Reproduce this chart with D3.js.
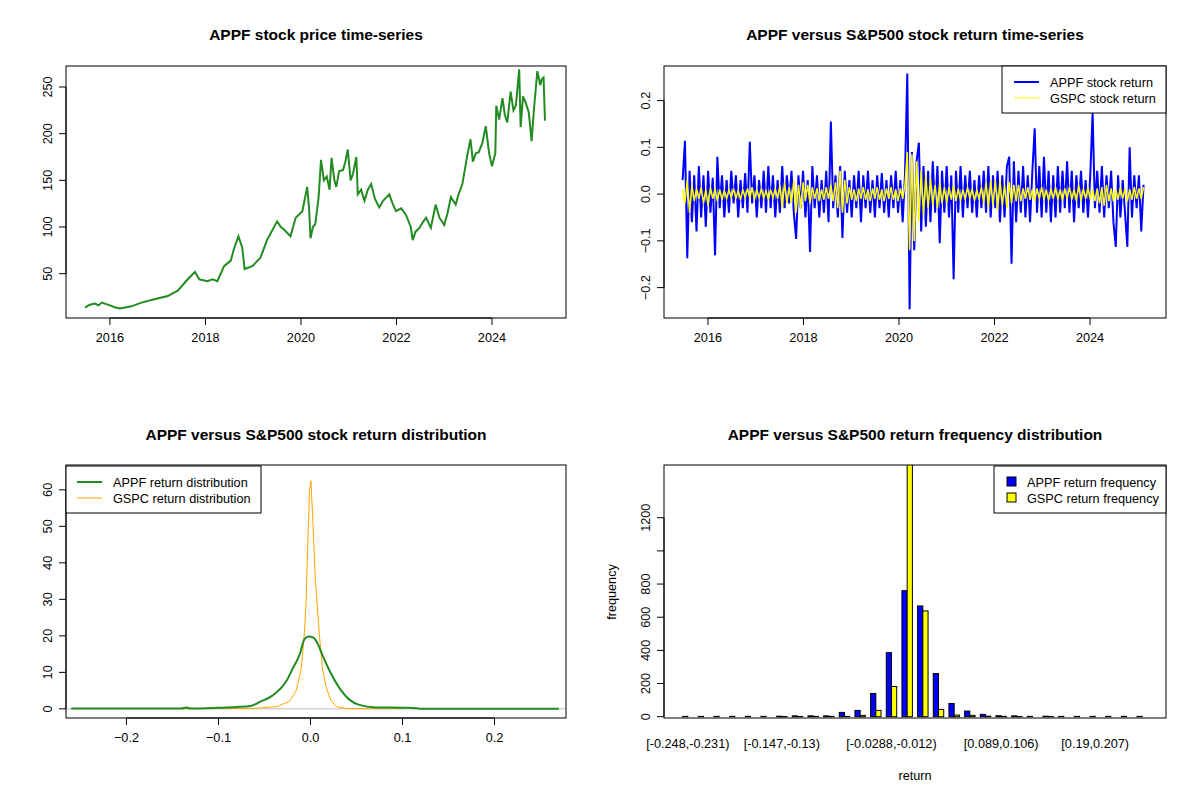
<!DOCTYPE html>
<html>
<head>
<meta charset="utf-8">
<script src="https://cdn.jsdelivr.net/npm/d3@7"></script>
<style>
  body { margin: 0; background: #fff; }
  text { font-family: "Liberation Sans", Arial, sans-serif; fill: #000; }
  .title { font-size: 15.5px; font-weight: bold; }
  .tick-label { font-size: 12.7px; }
  .legend-text { font-size: 12.7px; }
</style>
</head>
<body>
<svg id="chart" width="1200" height="800"></svg>
<script>
// ---- price series (year, price) ----
const priceYears = [2015.48,2015.55,2015.6,2015.69,2015.76,2015.83,2016.0,2016.1,2016.21,2016.45,2016.66,2016.93,2017.21,2017.42,2017.63,2017.78,2017.87,2018.04,2018.15,2018.25,2018.39,2018.53,2018.6,2018.69,2018.77,2018.82,2018.98,2019.15,2019.29,2019.5,2019.58,2019.65,2019.78,2019.89,2020.03,2020.13,2020.17,2020.2,2020.25,2020.3,2020.37,2020.42,2020.48,2020.54,2020.6,2020.64,2020.7,2020.74,2020.8,2020.88,2020.93,2020.98,2021.04,2021.09,2021.16,2021.19,2021.26,2021.33,2021.4,2021.47,2021.55,2021.64,2021.72,2021.85,2021.92,2021.99,2022.1,2022.2,2022.3,2022.34,2022.4,2022.48,2022.55,2022.62,2022.72,2022.82,2022.9,2023.0,2023.07,2023.14,2023.24,2023.3,2023.38,2023.48,2023.55,2023.6,2023.66,2023.72,2023.8,2023.87,2023.94,2024.0,2024.07,2024.09,2024.15,2024.22,2024.27,2024.32,2024.39,2024.45,2024.5,2024.57,2024.6,2024.65,2024.7,2024.77,2024.83,2024.88,2024.95,2025.01,2025.04,2025.08,2025.11];
const priceValues = [13.7,16,17,18,16,19,16,14,12.6,15,19,22.5,26,31.7,44,52,44,42,44,42,58,64,77,90,78,55,58,67,86,106,100,97,90,110,117,143,120,88,100,103,132,172,150,154,140,174,150,143,160,161,170,183,150,157,175,135,140,128,140,146,130,121,128,135,125,117,120,113,100,86,95,99,105,110,99,124,110,102,115,132,124,135,146,176,194,170,179,180,190,208,179,165,179,230,215,238,220,212,245,225,230,269,207,240,234,223,192,227,267,252,258,260,214];

// ---- daily return samples (start 2015.47 .. 2025.12) ----
const returnStart = 2015.47, returnEnd = 2025.12;
const appfReturns = [
  0.03,0.114,-0.137,0.05,-0.06,0.04,-0.08,0.06,-0.05,0.04,-0.07,0.05,-0.04,0.035,-0.131,0.08,-0.03,0.04,-0.05,0.03,
  -0.04,0.05,-0.02,0.04,-0.05,0.03,-0.03,0.045,-0.04,0.112,-0.02,0.04,-0.05,0.03,-0.03,0.05,-0.04,0.06,-0.03,0.04,
  -0.05,0.03,-0.04,0.06,-0.03,0.04,-0.02,0.05,-0.04,-0.096,0.04,-0.03,0.05,-0.05,0.03,-0.124,0.06,-0.03,0.04,-0.05,
  0.03,-0.04,0.05,-0.06,0.155,-0.03,0.04,-0.05,0.06,-0.094,0.05,-0.04,0.03,-0.05,0.04,-0.03,0.05,-0.06,0.04,-0.03,
  0.05,-0.04,0.03,-0.05,0.04,-0.03,0.045,-0.04,0.03,-0.05,0.04,-0.03,0.05,-0.04,0.03,-0.06,0.04,0.258,-0.246,0.09,
  -0.12,0.07,0.11,-0.08,0.06,-0.07,0.05,-0.06,0.07,-0.04,0.06,-0.105,0.05,-0.04,0.06,-0.05,0.04,-0.182,0.05,-0.04,
  0.06,-0.05,0.04,-0.03,0.05,-0.04,0.03,-0.05,0.04,-0.03,0.05,-0.04,0.06,-0.05,0.04,-0.03,0.05,-0.06,0.04,-0.05,
  0.06,0.08,-0.149,0.07,-0.06,0.05,-0.04,0.06,-0.05,0.04,-0.06,0.05,0.141,-0.04,0.06,-0.05,0.08,-0.04,0.05,-0.06,
  0.04,-0.05,0.06,-0.04,0.05,-0.03,0.07,-0.04,0.05,-0.06,0.04,-0.03,0.05,-0.04,0.03,-0.05,0.04,0.174,-0.03,0.05,
  -0.04,0.06,-0.05,0.04,-0.03,0.05,-0.06,-0.113,0.04,-0.05,0.03,-0.04,-0.113,0.10,-0.05,0.04,-0.03,0.04,-0.08,0.02
];
const gspcReturns = [
  0.01,-0.02,0.03,-0.04,0.02,-0.015,0.012,-0.01,0.015,-0.02,0.01,-0.025,0.015,-0.01,0.012,-0.015,0.01,-0.012,0.008,-0.01,
  0.01,-0.008,0.012,-0.01,0.008,-0.012,0.01,-0.008,0.012,-0.01,0.015,-0.012,0.01,-0.008,0.012,-0.01,0.008,-0.012,0.01,-0.008,
  0.012,-0.01,0.02,-0.03,0.025,-0.02,0.015,-0.02,0.03,-0.04,0.02,-0.03,0.025,-0.015,0.02,-0.02,0.015,-0.01,0.012,-0.015,
  0.01,-0.012,0.015,-0.01,0.02,-0.015,0.025,-0.03,0.05,-0.04,0.03,-0.02,0.015,-0.012,0.01,-0.015,0.012,-0.01,0.015,-0.012,
  0.01,-0.015,0.012,-0.01,0.015,-0.012,0.01,-0.015,0.012,-0.01,0.015,-0.012,0.01,-0.015,0.012,-0.01,0.02,0.09,-0.12,0.085,
  -0.1,0.07,-0.06,0.05,-0.045,0.04,-0.03,0.035,-0.025,0.02,-0.03,0.025,-0.02,0.015,-0.02,0.015,-0.012,0.02,-0.015,0.012,
  -0.015,0.01,-0.012,0.015,-0.01,0.012,-0.015,0.01,-0.012,0.015,-0.02,0.025,-0.03,0.03,-0.025,0.03,-0.035,0.03,-0.025,0.02,
  -0.03,0.025,-0.02,0.02,-0.015,0.02,-0.015,0.012,-0.01,0.015,-0.012,0.01,-0.015,0.012,-0.01,0.015,-0.012,0.01,-0.015,0.012,
  -0.01,0.015,-0.012,0.01,-0.015,0.012,-0.01,0.015,-0.012,0.01,-0.015,0.02,-0.015,0.012,-0.01,0.015,-0.012,0.01,-0.015,0.012,
  -0.02,0.015,-0.025,0.02,-0.015,0.012,-0.015,0.01,-0.012,0.015,-0.01,0.012,-0.015,0.01,-0.012,0.015,-0.01,0.012,-0.01,0.015
];

// ---- density curves ----
const appfDensX = [-0.26,-0.14,-0.135,-0.13,-0.1,-0.08,-0.065,-0.055,-0.041,-0.026,-0.019,-0.012,-0.0065,-0.002,0.0025,0.008,0.013,0.021,0.031,0.042,0.053,0.071,0.1,0.115,0.12,0.27];
const appfDensY = [0.1,0.1,0.4,0.1,0.3,0.5,0.8,1.9,3.7,7.7,11.2,14.7,19.1,19.8,19.6,17.8,14.7,10.3,5.9,2.6,1.1,0.4,0.3,0.2,0.05,0.05];
const gspcDensX = [-0.14,-0.1,-0.06,-0.037,-0.023,-0.0155,-0.01,-0.0065,-0.0047,-0.003,-0.001,0.0005,0.0025,0.0054,0.0098,0.013,0.017,0.022,0.028,0.04,0.07,0.1];
const gspcDensY = [0.05,0.1,0.15,0.6,2,5,11,21,30,45,60,62.5,52,35,20,11,6,2.4,0.6,0.1,0.05,0.05];

// ---- histogram ----
const binLabels = ["[-0.248,-0.231)","[-0.147,-0.13)","[-0.0288,-0.012)","[0.089,0.106)","[0.19,0.207)"];
const labelBins = [0, 6, 13, 20, 26];
const appfFreq = [2,2,2,2,2,2,3,5,5,5,26,38,140,386,760,668,260,80,34,14,6,5,2,3,2,2,2,2,2,2];
const gspcFreq  = [0,0,0,0,0,0,1,1,2,2,2,8,38,182,1700,638,44,10,8,3,2,1,0,1,0,0,0,0,0,0];

const svg = d3.select("#chart");

function box(x0, x1, y0, y1) {
  svg.append("rect").attr("x", x0).attr("y", y0).attr("width", x1 - x0).attr("height", y1 - y0)
    .attr("fill", "none").attr("stroke", "#000").attr("stroke-width", 1);
}
function title(text, cx, y) {
  svg.append("text").attr("class", "title").attr("x", cx).attr("y", y).attr("text-anchor", "middle").text(text);
}
function xAxis(scale, ticks, y, fmt) {
  const g = svg.append("g");
  g.append("line").attr("x1", scale(ticks[0])).attr("x2", scale(ticks[ticks.length - 1]))
    .attr("y1", y).attr("y2", y).attr("stroke", "#000");
  ticks.forEach(t => {
    g.append("line").attr("x1", scale(t)).attr("x2", scale(t)).attr("y1", y).attr("y2", y + 7).attr("stroke", "#000");
    g.append("text").attr("class", "tick-label").attr("x", scale(t)).attr("y", y + 24)
      .attr("text-anchor", "middle").text(fmt(t));
  });
}
function yAxis(scale, ticks, x, fmt, skip) {
  const g = svg.append("g");
  g.append("line").attr("x1", x).attr("x2", x)
    .attr("y1", scale(ticks[0])).attr("y2", scale(ticks[ticks.length - 1])).attr("stroke", "#000");
  ticks.forEach(t => {
    g.append("line").attr("x1", x - 7).attr("x2", x).attr("y1", scale(t)).attr("y2", scale(t)).attr("stroke", "#000");
    if (skip && skip.includes(t)) return;
    g.append("text").attr("class", "tick-label")
      .attr("transform", `translate(${x - 14},${scale(t)}) rotate(-90)`)
      .attr("text-anchor", "middle").text(fmt(t));
  });
}

// ===== Panel 1: price =====
{
  const x = d3.scaleLinear().domain([2015.08, 2025.55]).range([66, 566]);
  const y = d3.scaleLinear().domain([2.5, 272.5]).range([318, 66]);
  svg.append("path")
    .datum(priceYears.map((d, i) => [d, priceValues[i]]))
    .attr("d", d3.line().x(d => x(d[0])).y(d => y(d[1])))
    .attr("fill", "none").attr("stroke", "#228B22").attr("stroke-width", 2);
  box(66, 566, 66, 318);
  xAxis(x, [2016, 2018, 2020, 2022, 2024], 318, d => d);
  yAxis(y, [50, 100, 150, 200, 250], 66, d => d);
  title("APPF stock price time-series", 316, 40);
}

// ===== Panel 2: returns =====
{
  const x = d3.scaleLinear().domain([2015.08, 2025.59]).range([664, 1166]);
  const y = d3.scaleLinear().domain([-0.265, 0.274]).range([318, 66]);
  const dates = d3.range(appfReturns.length).map(i => returnStart + i * (returnEnd - returnStart) / (appfReturns.length - 1));
  const line = d3.line().x((d, i) => x(dates[i])).y(d => y(d));
  svg.append("path").datum(appfReturns).attr("d", line)
    .attr("fill", "none").attr("stroke", "#0000FF").attr("stroke-width", 2);
  svg.append("path").datum(gspcReturns).attr("d", line)
    .attr("fill", "none").attr("stroke", "#FFFF00").attr("stroke-width", 1.5);
  box(664, 1166, 66, 318);
  xAxis(x, [2016, 2018, 2020, 2022, 2024], 318, d => d);
  yAxis(y, [-0.2, -0.1, 0, 0.1, 0.2], 664, d => d3.format(".1f")(d));
  title("APPF versus S&P500 stock return time-series", 915, 40);
  svg.append("rect").attr("x", 1002).attr("y", 66).attr("width", 164).attr("height", 47)
    .attr("fill", "#fff").attr("stroke", "#000");
  svg.append("line").attr("x1", 1014).attr("x2", 1039).attr("y1", 82).attr("y2", 82).attr("stroke", "#0000FF").attr("stroke-width", 2);
  svg.append("line").attr("x1", 1014).attr("x2", 1039).attr("y1", 98).attr("y2", 98).attr("stroke", "#FFFF00").attr("stroke-width", 1);
  svg.append("text").attr("class", "legend-text").attr("x", 1050).attr("y", 86.5).text("APPF stock return");
  svg.append("text").attr("class", "legend-text").attr("x", 1050).attr("y", 102.5).text("GSPC stock return");
}

// ===== Panel 3: density =====
{
  const x = d3.scaleLinear().domain([-0.2657, 0.2777]).range([66, 566]);
  const y = d3.scaleLinear().domain([-2.5, 66.8]).range([718, 465]);
  svg.append("line").attr("x1", 66).attr("x2", 566).attr("y1", y(0)).attr("y2", y(0)).attr("stroke", "#bebebe");
  svg.append("path").datum(gspcDensX.map((d, i) => [d, gspcDensY[i]]))
    .attr("d", d3.line().x(d => x(d[0])).y(d => y(d[1])))
    .attr("fill", "none").attr("stroke", "#FFA500").attr("stroke-width", 1);
  svg.append("path").datum(appfDensX.map((d, i) => [d, appfDensY[i]]))
    .attr("d", d3.line().curve(d3.curveMonotoneX).x(d => x(d[0])).y(d => y(d[1])))
    .attr("fill", "none").attr("stroke", "#228B22").attr("stroke-width", 2);
  box(66, 566, 465, 718);
  xAxis(x, [-0.2, -0.1, 0, 0.1, 0.2], 718, d => d3.format(".1f")(d));
  yAxis(y, [0, 10, 20, 30, 40, 50, 60], 66, d => d);
  title("APPF versus S&P500 stock return distribution", 316, 440);
  svg.append("rect").attr("x", 66).attr("y", 466).attr("width", 195).attr("height", 47)
    .attr("fill", "#fff").attr("stroke", "#000");
  svg.append("line").attr("x1", 77).attr("x2", 102).attr("y1", 482).attr("y2", 482).attr("stroke", "#228B22").attr("stroke-width", 2);
  svg.append("line").attr("x1", 77).attr("x2", 102).attr("y1", 498).attr("y2", 498).attr("stroke", "#FFA500").attr("stroke-width", 1);
  svg.append("text").attr("class", "legend-text").attr("x", 113).attr("y", 486.5).text("APPF return distribution");
  svg.append("text").attr("class", "legend-text").attr("x", 113).attr("y", 502.5).text("GSPC return distribution");
}

// ===== Panel 4: histogram =====
{
  const x = d3.scaleLinear().domain([-2.56, 93.56]).range([664, 1166]);
  const y = d3.scaleLinear().domain([0, 1518]).range([716.7, 465]);
  svg.append("clipPath").attr("id", "clip4").append("rect")
    .attr("x", 664).attr("y", 465).attr("width", 502).attr("height", 253);
  const g = svg.append("g").attr("clip-path", "url(#clip4)");
  const bars = [];
  appfFreq.forEach((v, i) => bars.push({ u: 1 + 3 * i, v, c: "#0000FF" }));
  gspcFreq.forEach((v, i) => bars.push({ u: 2 + 3 * i, v, c: "#FFFF00" }));
  g.selectAll("rect").data(bars).join("rect")
    .attr("x", d => x(d.u)).attr("width", d => x(d.u + 1) - x(d.u))
    .attr("y", d => y(d.v)).attr("height", d => y(0) - y(d.v))
    .attr("fill", d => d.c).attr("stroke", "#000").attr("stroke-width", 1);
  box(664, 1166, 465, 718);
  yAxis(y, [0, 200, 400, 600, 800, 1000, 1200], 664, d => d, [1000]);
  labelBins.forEach((b, k) => {
    svg.append("text").attr("class", "tick-label").attr("x", x(2 + 3 * b)).attr("y", 748)
      .attr("text-anchor", "middle").text(binLabels[k]);
  });
  svg.append("text").attr("class", "tick-label").attr("x", 915).attr("y", 780).attr("text-anchor", "middle").text("return");
  svg.append("text").attr("class", "tick-label").attr("transform", "translate(616,592) rotate(-90)")
    .attr("text-anchor", "middle").text("frequency");
  title("APPF versus S&P500 return frequency distribution", 915, 440);
  svg.append("rect").attr("x", 994).attr("y", 466).attr("width", 172).attr("height", 47)
    .attr("fill", "#fff").attr("stroke", "#000");
  [["#0000FF", "APPF return frequency", 482], ["#FFFF00", "GSPC return frequency", 498]].forEach(([c, t, yy]) => {
    svg.append("rect").attr("x", 1007).attr("y", yy - 5).attr("width", 9).attr("height", 9)
      .attr("fill", c).attr("stroke", "#000");
    svg.append("text").attr("class", "legend-text").attr("x", 1027).attr("y", yy + 4.5).text(t);
  });
}
</script>
</body>
</html>
